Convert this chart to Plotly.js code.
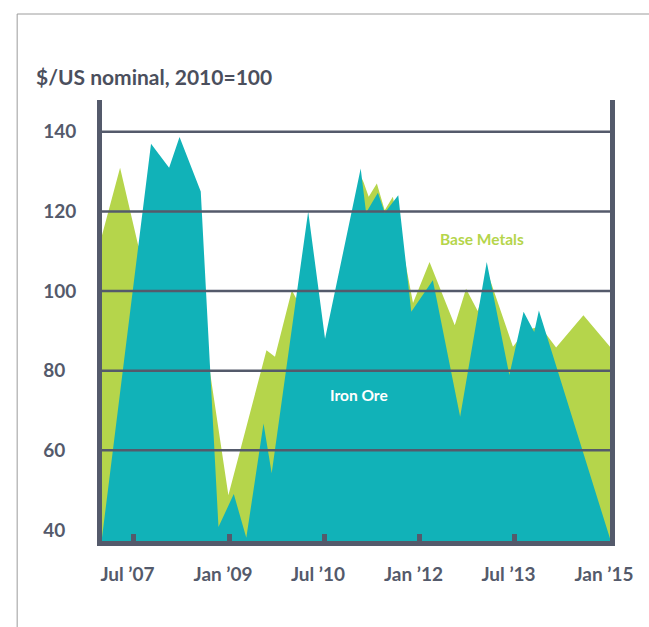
<!DOCTYPE html>
<html>
<head>
<meta charset="utf-8">
<script src="https://cdn.plot.ly/plotly-3.0.1.min.js"></script>
<style>html,body{margin:0;padding:0;background:#fff;} #chart{width:649px;height:627px;}</style>
</head>
<body>
<div id="chart"></div>
<script>
// Base Metals index (2010=100)
const baseDates = ['2007-01-01','2007-04-15','2007-07-28','2007-10-01','2008-01-01','2008-04-01','2008-07-01','2008-09-12','2008-12-28','2009-08-04','2009-09-22','2009-12-28','2010-03-01','2010-06-01','2010-07-15','2010-10-01','2011-02-01','2011-02-13','2011-03-15','2011-05-01','2011-06-15','2011-08-01','2011-11-25','2012-02-28','2012-07-22','2012-09-25','2012-12-01','2013-02-01','2013-06-22','2013-09-01','2013-11-15','2014-01-01','2014-02-25','2014-08-01','2015-01-01'];
const baseValues = [114,131,111.5,108,115,118,112,80,48.7,85.1,83.5,100.2,95,86,84,100,128.5,127.4,123.7,127,120.3,123.7,97,107.3,91.4,100.6,95,104,86,90,91,89,85.8,93.9,86];

// Iron Ore index (2010=100)
const ironDates = ['2007-01-01','2007-10-10','2008-01-22','2008-03-22','2008-07-22','2008-11-01','2009-01-28','2009-04-10','2009-07-18','2009-09-03','2010-04-01','2010-07-07','2011-01-28','2011-02-28','2011-05-07','2011-06-15','2011-09-01','2011-11-15','2012-03-18','2012-08-22','2013-01-22','2013-06-01','2013-08-22','2013-10-22','2013-11-18','2015-01-01'];
const ironValues = [38,137,131,138.7,125,40.7,49,38,66.7,54.2,120,88,130.8,119.7,124.7,119.7,124.1,94.8,102.7,68.4,107.3,78.9,94.8,89.7,95.1,37.8];

const xTickVals = ['2007-07-01','2009-01-01','2010-07-01','2012-01-01','2013-07-01','2015-01-01'];
const xTickText = ['Jul ’07','Jan ’09','Jul ’10','Jan ’12','Jul ’13','Jan ’15'];
const yTickVals = [40,60,80,100,120,140];
const gridVals = [60,80,100,120,140];

const GREEN = '#b5d54b';
const TEAL = '#11b2b8';
const AXIS = '#545a6b';
const FONT = 'Lato, "Open Sans", sans-serif';

const traces = [
  {x: baseDates, y: baseValues, type:'scatter', mode:'lines', fill:'tozeroy',
   fillcolor: GREEN, line:{width:0, color:GREEN}, name:'Base Metals', hoverinfo:'skip'},
  {x: ironDates, y: ironValues, type:'scatter', mode:'lines', fill:'tozeroy',
   fillcolor: TEAL, line:{width:0, color:TEAL}, name:'Iron Ore', hoverinfo:'skip'}
];

const shapes = gridVals.map(v => ({
  type:'line', xref:'paper', yref:'y', x0:0, x1:1, y0:v, y1:v,
  line:{color:AXIS, width:2.5}, layer:'above'
}));
shapes.push({
  type:'rect', xref:'paper', yref:'paper',
  x0:-0.167, x1:1.2, y0:-0.3, y1:1.195,
  line:{color:'#9c9c9c', width:1}, fillcolor:'rgba(0,0,0,0)', layer:'below'
});

const layout = {
  width:649, height:627,
  margin:{l:102, r:39, t:100, b:86, pad:0},
  paper_bgcolor:'#ffffff', plot_bgcolor:'#ffffff',
  showlegend:false,
  title:{text:'$/US nominal, 2010=100', xref:'container', yref:'container',
    x:36/649, xanchor:'left', y:1-78/627, yanchor:'middle',
    font:{family:FONT, size:21, weight:700, color:'#4b4f5d'}},
  xaxis:{type:'date', range:['2007-01-01','2015-01-01'],
    tickmode:'array', tickvals:xTickVals, ticktext:xTickText,
    ticks:'inside', ticklen:7, tickwidth:5, tickcolor:AXIS,
    showline:true, linecolor:AXIS, linewidth:5, showgrid:false, zeroline:false,
    layer:'above traces', ticklabelstandoff:12, ticklabelshift:-6,
    tickfont:{family:FONT, size:19, weight:700, color:AXIS}, fixedrange:true},
  yaxis:{range:[37.2,148], tickmode:'array', tickvals:yTickVals,
    ticks:'', showline:true, mirror:true, linecolor:AXIS, linewidth:5,
    showgrid:false, zeroline:false, layer:'above traces',
    ticklabelposition:'inside', ticklabelstandoff:-58, ticklabeloverflow:'allow',
    tickfont:{family:FONT, size:19, weight:700, color:AXIS}, fixedrange:true},
  shapes: shapes,
  annotations:[
    {text:'Base Metals', xref:'paper', yref:'paper', x:(482-102)/508, y:(541-239)/441,
     xanchor:'center', yanchor:'middle',
     showarrow:false, font:{family:FONT, size:15.5, weight:700, color:GREEN}},
    {text:'Iron Ore', xref:'paper', yref:'paper', x:(359-102)/508, y:(541-395)/441,
     xanchor:'center', yanchor:'middle',
     showarrow:false, font:{family:FONT, size:15.5, weight:700, color:'#ffffff'}}
  ]
};

Plotly.newPlot('chart', traces, layout, {displayModeBar:false, staticPlot:true});
</script>
</body>
</html>
